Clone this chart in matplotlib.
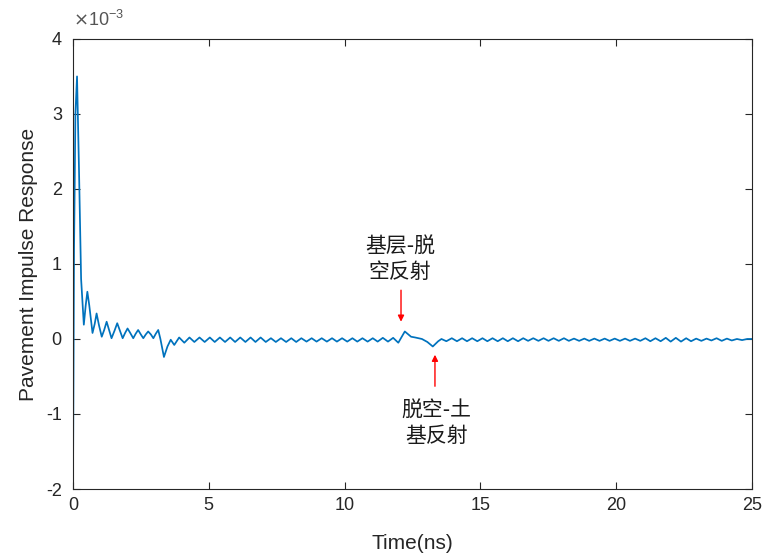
import matplotlib
matplotlib.use("Agg")
import matplotlib.pyplot as plt
from matplotlib.ticker import FuncFormatter

# ---- data (values in units of 1e-3) ----
# main pulse and the early ringing
t_head = [0.00, 0.04, 0.09, 0.15, 0.22, 0.30, 0.40, 0.47, 0.53, 0.60, 0.72, 0.80,
          0.87, 0.96, 1.06, 1.15, 1.24, 1.33, 1.42, 1.53, 1.63, 1.73, 1.83, 1.92,
          2.01, 2.11, 2.22, 2.31, 2.40, 2.50, 2.59, 2.68, 2.77, 2.87, 2.96, 3.05,
          3.14, 3.22, 3.35, 3.48, 3.60, 3.73]
v_head = [-2.05, 1.20, 3.00, 3.50, 2.30, 0.80, 0.19, 0.45, 0.63, 0.45, 0.08, 0.20,
          0.34, 0.18, 0.03, 0.12, 0.23, 0.12, 0.01, 0.11, 0.21, 0.11, 0.01, 0.08,
          0.14, 0.08, 0.01, 0.07, 0.12, 0.06, 0.01, 0.06, 0.10, 0.06, 0.01, 0.07,
          0.12, 0.00, -0.24, -0.10, -0.01, -0.08]

# small ringing up to the first reflection
t_mid = [3.91, 4.10, 4.29, 4.47, 4.66, 4.85, 5.04, 5.22, 5.41, 5.60, 5.79, 5.97,
         6.16, 6.35, 6.54, 6.72, 6.91, 7.10, 7.29, 7.47, 7.66, 7.85, 8.04, 8.22,
         8.41, 8.60, 8.79, 8.97, 9.16, 9.35, 9.54, 9.72, 9.91, 10.10, 10.29, 10.47,
         10.66, 10.85, 11.04, 11.22, 11.41, 11.60, 11.79, 11.98]
v_mid = [0.02, -0.05, 0.02, -0.04, 0.02, -0.04, 0.02, -0.04, 0.02, -0.04, 0.02, -0.04,
         0.02, -0.04, 0.02, -0.04, 0.02, -0.04, 0.01, -0.04, 0.01, -0.04, 0.01, -0.04,
         0.01, -0.035, 0.01, -0.035, 0.01, -0.035, 0.01, -0.035, 0.01, -0.035, 0.01, -0.035,
         0.01, -0.035, 0.01, -0.035, 0.015, -0.035, 0.015, -0.05]

# the two reflections
t_refl = [12.22, 12.45, 12.60, 12.85, 13.05, 13.25, 13.45, 13.57, 13.75]
v_refl = [0.10, 0.03, 0.02, 0.00, -0.04, -0.10, -0.03, 0.00, -0.03]

# tail ringing
t_tail = [13.95, 14.14, 14.33, 14.51, 14.70, 14.89, 15.08, 15.26, 15.45, 15.64,
          15.83, 16.01, 16.20, 16.39, 16.58, 16.76, 16.95, 17.14, 17.33, 17.51,
          17.70, 17.89, 18.08, 18.26, 18.45, 18.64, 18.83, 19.01, 19.20, 19.39,
          19.58, 19.76, 19.95, 20.14, 20.33, 20.51, 20.70, 20.89, 21.08, 21.26,
          21.45, 21.64, 21.83, 22.01, 22.20, 22.39, 22.58, 22.76, 22.95, 23.14,
          23.33, 23.51, 23.70, 23.89, 24.08, 24.26, 24.45, 24.64, 24.83, 25.00]
v_tail = [0.01, -0.03, 0.01, -0.03, 0.01, -0.03, 0.01, -0.03, 0.01, -0.03,
          0.01, -0.03, 0.01, -0.03, 0.01, -0.025, 0.01, -0.025, 0.01, -0.025,
          0.01, -0.025, 0.01, -0.025, 0.005, -0.025, 0.005, -0.025, 0.005, -0.025,
          0.005, -0.025, 0.005, -0.025, 0.005, -0.025, 0.005, -0.025, 0.01, -0.03,
          0.01, -0.03, 0.015, -0.035, 0.015, -0.035, 0.01, -0.03, 0.005, -0.025,
          0.005, -0.02, 0.01, -0.025, 0.005, -0.02, 0.0, -0.015, 0.0, 0.0]

time_ns = t_head + t_mid + t_refl + t_tail
resp = [v * 1e-3 for v in v_head + v_mid + v_refl + v_tail]

labels = ["基层-脱\n空反射", "脱空-土\n基反射"]
label_xy = [(12.05, 1.06e-3), (13.39, -1.13e-3)]
arrow_tail = [(12.08, 0.65e-3), (13.33, -0.63e-3)]
arrow_tip = [(12.08, 0.23e-3), (13.33, -0.21e-3)]

# ---- plot ----
plt.rcParams['font.family'] = ['Liberation Sans', 'DejaVu Sans']
plt.rcParams['axes.unicode_minus'] = False
grey = '#262626'

fig = plt.figure(figsize=(7.68, 5.56), dpi=100)
ax = fig.add_axes([0.095, 0.1205, 0.884, 0.8095])
ax.plot(time_ns, resp, color='#0072BD', lw=1.25,
        solid_joinstyle='round', solid_capstyle='round')

ax.set_xlim(0, 25)
ax.set_ylim(-2e-3, 4e-3)
ax.set_xticks([0, 5, 10, 15, 20, 25])
ax.set_yticks([-2e-3, -1e-3, 0, 1e-3, 2e-3, 3e-3, 4e-3])
# matlab-like exponent label: plain hyphen ticks plus a separate x10^-3
ax.yaxis.set_major_formatter(FuncFormatter(lambda y, p: '%g' % round(y * 1e3, 6)))
ax.text(0.0, 1.02, r'$\times$10$^{\mathregular{-3}}$', transform=ax.transAxes,
        ha='left', va='bottom', fontsize=13, color='#555555')

ax.tick_params(direction='in', top=True, right=True, labelsize=13,
               colors=grey, length=5, width=0.8)
ax.tick_params(axis='y', pad=8)
ax.tick_params(axis='x', pad=6)
for s in ax.spines.values():
    s.set_color(grey)
    s.set_linewidth(0.8)

ax.set_xlabel('Time(ns)', fontsize=15, color=grey, labelpad=14)
ax.set_ylabel('Pavement Impulse Response', fontsize=15, color=grey, labelpad=6)

for txt, pos, a0, a1 in zip(labels, label_xy, arrow_tail, arrow_tip):
    ax.text(pos[0], pos[1], txt, ha='center', va='center', fontsize=15,
            color='#1a1a1a', linespacing=1.2,
            family=['Noto Sans CJK SC', 'DejaVu Sans'])
    ax.annotate('', xy=a1, xytext=a0,
                arrowprops=dict(arrowstyle='-|>', color='red', lw=1.0,
                                mutation_scale=9, shrinkA=0, shrinkB=0))

fig.savefig('out.png', dpi=100)
